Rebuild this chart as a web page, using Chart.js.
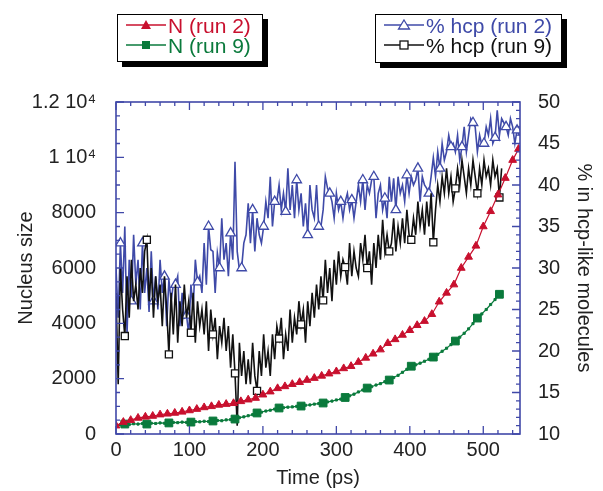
<!DOCTYPE html>
<html>
<head>
<meta charset="utf-8">
<script src="https://cdn.jsdelivr.net/npm/chart.js@4.4.1/dist/chart.umd.min.js"></script>
<style>
  body { margin: 0; background: #fff; font-family: "Liberation Sans", Arial, sans-serif; }
  #wrap { position: relative; width: 603px; height: 491px; }
  .legend {
    position: absolute; background: #fff; border: 1.5px solid #000;
    box-shadow: 5px 5px 0 #000; box-sizing: border-box; padding-top: 1px;
  }
  .legend div { height: 20px; line-height: 20px; font-size: 21px; white-space: nowrap; }
  .legend svg { vertical-align: middle; margin: 0 2px 0 8px; position: relative; top: -2px; }
</style>
</head>
<body>
<div id="wrap">
  <canvas id="nucleusChart"></canvas>
  <div class="legend" style="left:117px; top:14px; width:146px; height:48px;">
    <div style="color:#c8102e"><svg width="40" height="12"><line x1="0" y1="6" x2="40" y2="6" stroke="#c8102e" stroke-width="1.5"/><polygon points="20,1 25,10 15,10" fill="#c8102e"/></svg>N (run 2)</div>
    <div style="color:#0a7a3c"><svg width="40" height="12"><line x1="0" y1="6" x2="40" y2="6" stroke="#0a7a3c" stroke-width="1.5"/><rect x="16" y="2" width="8" height="8" fill="#0a7a3c"/></svg>N (run 9)</div>
  </div>
  <div class="legend" style="left:375px; top:14px; width:187px; height:49px;">
    <div style="color:#3f4aa8"><svg width="40" height="12"><line x1="0" y1="6" x2="40" y2="6" stroke="#3f4aa8" stroke-width="1.5"/><polygon points="20,1 25.5,10 14.5,10" fill="#fff" stroke="#3f4aa8" stroke-width="1.3"/></svg>% hcp (run 2)</div>
    <div style="color:#111"><svg width="40" height="12"><line x1="0" y1="6" x2="40" y2="6" stroke="#111" stroke-width="1.5"/><rect x="16" y="2" width="8" height="8" fill="#fff" stroke="#111" stroke-width="1.3"/></svg>% hcp (run 9)</div>
  </div>
</div>
<script>
// Nucleus size (left axis), sampled every 10 ps
const redTime = [0, 10, 20, 30, 40, 50, 60, 70, 80, 90, 100, 110, 120, 130, 140, 150, 160, 170, 180, 190,
  200, 210, 220, 230, 240, 250, 260, 270, 280, 290, 300, 310, 320, 330, 340, 350, 360, 370, 380, 390,
  400, 410, 420, 430, 440, 450, 460, 470, 480, 490, 500, 510, 520, 530, 540, 548];
const redSize = [300, 430, 500, 580, 620, 650, 700, 730, 760, 800, 850, 900, 960, 1000, 1050, 1080, 1110, 1180, 1240, 1300,
  1420, 1530, 1650, 1720, 1800, 1870, 1950, 2020, 2100, 2180, 2260, 2370, 2450, 2600, 2750, 2900, 3050, 3280, 3420, 3580,
  3750, 3930, 4080, 4330, 4780, 5100, 5400, 6000, 6400, 6800, 7500, 8050, 8650, 9250, 9900, 10300];

// run 9 nucleus size, one sample every 6 ps from t = 0
const greenStep = 6;
const greenSize = [300, 330, 360, 340, 370, 360, 380, 360, 390, 380,
  400, 390, 400, 420, 410, 430, 420, 430, 450, 440,
  460, 450, 470, 490, 480, 510, 520, 540, 590, 620,
  660, 700, 760, 790, 830, 860, 900, 940, 950, 970,
  980, 1000, 1010, 1040, 1050, 1080, 1100, 1120, 1160, 1190,
  1230, 1260, 1320, 1380, 1440, 1520, 1590, 1660, 1710, 1770,
  1820, 1890, 1950, 2040, 2120, 2230, 2340, 2450, 2500, 2560,
  2630, 2700, 2780, 2880, 2990, 3100, 3230, 3360, 3500, 3640,
  3800, 3990, 4190, 4340, 4500, 4680, 4860, 5050];

// % hcp-like molecules (right axis), one sample every 3 ps from t = 0
const hcpStep = 3;
const blueHcp = [30, 24, 33, 27, 35, 22, 31, 26, 34, 28,
  31, 25, 33, 27, 30, 24.7, 32, 26, 29, 25,
  31, 27, 29, 23, 28.6, 26, 28, 28, 29, 23,
  27, 24, 24.3, 22, 28, 25, 31, 28.3, 29, 27,
  33, 28, 35, 32.2, 32, 27, 31.8, 30, 36, 31,
  33, 29, 34.2, 31, 42.8, 32, 29.8, 30, 33, 34,
  37.8, 33, 37, 32, 36, 34, 33, 35, 38, 36,
  41, 35, 38, 38, 40, 37, 39, 36.8, 42, 37,
  40, 36, 40.6, 37, 39, 35, 37.8, 34, 40, 37,
  36, 40, 35, 35, 37, 41, 39.6, 39, 38, 36,
  39, 37, 38, 36, 38, 39, 37, 38.2, 36, 38,
  40, 38, 40.6, 37, 40, 39, 40.6, 41, 36, 39,
  40, 37, 38.4, 36, 41, 38, 40.8, 37, 41, 39,
  40, 38, 41.2, 39, 41, 40, 40.6, 42, 38, 41,
  40, 39.6, 39, 41, 43.3, 41, 44, 42, 45, 43,
  44, 46, 44.6, 45, 44, 46, 43, 44.6, 47, 44,
  46, 48, 47.5, 47, 44, 46, 44.8, 45, 47, 46,
  48, 45, 45.7, 49, 46, 48, 47.5, 47, 46, 48,
  47, 45, 46.6, 46];
const blackHcp = [27, 16, 30, 25, 21.8, 29, 24, 31, 26, 28,
  25, 30, 27, 32, 33.4, 26, 30, 24, 29, 26,
  28, 23, 29, 25, 19.6, 27, 22, 28, 21, 26,
  23, 28, 24, 26, 22.2, 27, 21, 26, 23, 25,
  22, 26, 20, 25, 22, 24, 19, 23, 21, 24,
  20, 23, 18, 22, 17.3, 11, 21, 17, 20, 16,
  19, 16, 21, 17, 15.2, 20, 17, 22, 18, 20,
  17, 22, 19, 23, 21.5, 24, 19, 22, 20, 25,
  21, 24, 22, 26, 23.2, 25, 21, 26, 23, 27,
  24, 28, 25, 29, 26.1, 31, 27, 30, 26, 31,
  28, 32, 29, 31, 30.1, 28, 33, 29, 32, 30,
  29, 33, 31, 34, 30, 32, 28, 33, 30, 34,
  31, 35.8, 32, 34, 32, 33, 36, 32, 35, 33,
  36, 33, 37, 34, 33.4, 36, 34, 38, 35, 37,
  34, 38, 35, 39, 33.1, 37, 40, 38, 41, 39,
  42, 39, 41, 38, 39.6, 42, 40, 43, 41, 39,
  42, 40, 43, 41, 39, 42, 40, 43, 41, 42,
  40, 43, 41, 42, 38.5, 42];

const axisBlue = '#4048a8';
const textFont = { family: '"Liberation Sans", Arial, sans-serif', size: 20 };

const toPoints = (xs, ys) => ys.map((y, i) => ({ x: xs[i], y }));
const stepPoints = (step, ys) => ys.map((y, i) => ({ x: i * step, y }));

// frame with inward ticks on all four sides
const frameTicks = {
  id: 'frameTicks',
  afterDatasetsDraw(chart) {
    const { ctx, chartArea: a, scales } = chart;
    ctx.save();
    ctx.strokeStyle = axisBlue;
    ctx.lineWidth = 1.6;
    ctx.strokeRect(a.left, a.top, a.right - a.left, a.bottom - a.top);
    ctx.lineWidth = 1.3;
    ctx.beginPath();
    for (let v = 0; v <= 540; v += 20) {
      const px = scales.x.getPixelForValue(v);
      const len = v % 100 === 0 ? 8 : 4;
      ctx.moveTo(px, a.bottom); ctx.lineTo(px, a.bottom - len);
      ctx.moveTo(px, a.top); ctx.lineTo(px, a.top + len);
    }
    for (let v = 0; v <= 12000; v += 500) {
      const py = scales.y.getPixelForValue(v);
      const len = v % 2000 === 0 ? 8 : 4;
      ctx.moveTo(a.left, py); ctx.lineTo(a.left + len, py);
    }
    for (let v = 10; v <= 50; v += 1) {
      const py = scales.y2.getPixelForValue(v);
      const len = v % 5 === 0 ? 8 : 4;
      ctx.moveTo(a.right, py); ctx.lineTo(a.right - len, py);
    }
    ctx.stroke();
    ctx.restore();
  }
};

new Chart(document.getElementById('nucleusChart').getContext('2d'), {
  type: 'scatter',
  data: {
    datasets: [
      {
        label: 'N (run 2)',
        data: toPoints(redTime, redSize),
        yAxisID: 'y',
        showLine: true,
        borderColor: '#c8102e',
        backgroundColor: '#c8102e',
        borderWidth: 1.2,
        pointStyle: 'triangle',
        pointRadius: 4.5,
        pointBorderWidth: 1,
        order: 1
      },
      {
        label: 'N (run 9)',
        data: stepPoints(greenStep, greenSize),
        yAxisID: 'y',
        showLine: true,
        borderColor: '#0a7a3c',
        backgroundColor: '#0a7a3c',
        borderWidth: 1.2,
        pointStyle: 'rect',
        pointRadius: (c) => (c.dataIndex % 5 === 2 ? 5.5 : 1.5),
        pointBorderWidth: 1,
        order: 2
      },
      {
        label: '% hcp (run 9)',
        data: stepPoints(hcpStep, blackHcp),
        yAxisID: 'y2',
        showLine: true,
        borderColor: '#111',
        backgroundColor: '#fff',
        borderWidth: 1.6,
        pointStyle: 'rect',
        pointRadius: (c) => (c.dataIndex % 10 === 4 ? 5 : 0),
        pointBorderWidth: 1.3,
        order: 3
      },
      {
        label: '% hcp (run 2)',
        data: stepPoints(hcpStep, blueHcp),
        yAxisID: 'y2',
        showLine: true,
        borderColor: '#3f4aa8',
        backgroundColor: '#fff',
        borderWidth: 1.6,
        pointStyle: 'triangle',
        pointRadius: (c) => (c.dataIndex % 5 === 2 ? 5.5 : 0),
        pointBorderWidth: 1.3,
        order: 4
      }
    ]
  },
  options: {
    responsive: true,
    maintainAspectRatio: false,
    animation: false,
    layout: { padding: { top: 102, left: 0, right: 0, bottom: 0 } },
    plugins: { legend: { display: false }, tooltip: { enabled: false } },
    scales: {
      x: {
        type: 'linear',
        position: 'bottom',
        min: 0,
        max: 550,
        grid: { display: false },
        border: { display: false },
        ticks: {
          stepSize: 100,
          includeBounds: false,
          padding: -4,
          color: '#222',
          font: textFont,
          callback: (v) => (v % 100 === 0 ? String(v) : '')
        },
        title: { display: true, text: 'Time (ps)', color: '#222', font: textFont, padding: { top: 0, bottom: 1 } },
        afterFit: (s) => { s.height = 57; }
      },
      y: {
        position: 'left',
        min: 0,
        max: 12000,
        grid: { display: false },
        border: { display: false },
        ticks: {
          stepSize: 2000,
          padding: 12,
          color: '#222',
          font: textFont,
          callback: (v) => (v === 10000 ? '1 10⁴' : v === 12000 ? '1.2 10⁴' : String(v))
        },
        title: { display: true, text: 'Nucleus size', color: '#222', font: textFont, padding: { top: 14, bottom: 0 } },
        afterFit: (s) => { s.width = 116; }
      },
      y2: {
        position: 'right',
        min: 10,
        max: 50,
        grid: { display: false },
        border: { display: false },
        ticks: { stepSize: 5, padding: 10, color: '#222', font: textFont },
        title: { display: true, text: '% in hcp-like molecules', color: '#222', font: textFont, padding: { top: 7, bottom: 0 } },
        afterFit: (s) => { s.width = 83; }
      }
    }
  },
  plugins: [frameTicks]
});
</script>
</body>
</html>
